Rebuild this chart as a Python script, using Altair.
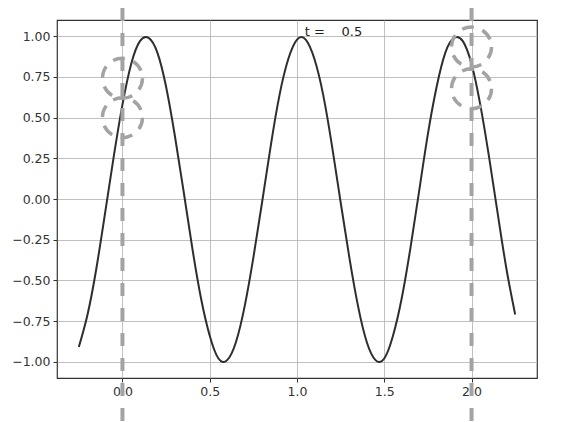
import altair as alt
import pandas as pd

# curve samples
xs = [-0.25, -0.20, -0.15, -0.10, -0.05, 0.00, 0.05, 0.10, 0.15, 0.20, 0.25,
      0.30, 0.35, 0.40, 0.45, 0.50, 0.55, 0.60, 0.65, 0.70, 0.75, 0.80,
      0.85, 0.90, 0.95, 1.00, 1.05, 1.10, 1.15, 1.20, 1.25, 1.30, 1.35,
      1.40, 1.45, 1.50, 1.55, 1.60, 1.65, 1.70, 1.75, 1.80, 1.85, 1.90,
      1.95, 2.00, 2.05, 2.10, 2.15, 2.20, 2.25]
ys = [-0.91, -0.71, -0.43, -0.09, 0.26, 0.58, 0.83, 0.97, 0.99, 0.90, 0.69,
      0.39, 0.05, -0.30, -0.61, -0.84, -0.98, -0.99, -0.88, -0.66, -0.36, -0.02,
      0.33, 0.64, 0.86, 0.98, 0.98, 0.86, 0.64, 0.33, -0.02, -0.36, -0.66,
      -0.88, -0.99, -0.98, -0.84, -0.61, -0.30, 0.05, 0.40, 0.69, 0.90, 0.99,
      0.97, 0.83, 0.58, 0.26, -0.09, -0.43, -0.71]

# vertical dashed markers
rule_x = [0.0, 2.0]

# dashed circles
circle_x = [0.0, 0.0, 2.0, 2.0]
circle_y = [0.742, 0.50, 0.934, 0.678]

label_x = [1.045]
label_y = [1.0]
label_text = ["t =\u00a0\u00a0\u00a0\u00a00.5"]

W, H = 480, 358
PAD = {"left": 49, "top": 12, "right": 18, "bottom": 44}

curve_df = pd.DataFrame({"x": xs, "y": ys})
rule_df = pd.DataFrame({"x": rule_x})
circ_df = pd.DataFrame({"x": circle_x, "y": circle_y})
txt_df = pd.DataFrame({"x": label_x, "y": label_y, "t": label_text})

xscale = alt.Scale(domain=[-0.375, 2.375], nice=False, zero=False)
yscale = alt.Scale(domain=[-1.1, 1.1], nice=False, zero=False)

xaxis = alt.Axis(values=[0, 0.5, 1.0, 1.5, 2.0], format=".1f", title=None)
yaxis = alt.Axis(values=[-1, -0.75, -0.5, -0.25, 0, 0.25, 0.5, 0.75, 1.0],
                 format=".2f", title=None)

curve = alt.Chart(curve_df).mark_line(
    color="#2e2e2e", strokeWidth=2, interpolate="natural"
).encode(
    x=alt.X("x:Q", scale=xscale, axis=xaxis),
    y=alt.Y("y:Q", scale=yscale, axis=yaxis),
)

rules = alt.Chart(rule_df).mark_rule(
    color="#a3a3a3", strokeWidth=4, strokeDash=[13, 12]
).encode(
    x=alt.X("x:Q", scale=xscale),
    y=alt.value(-PAD["top"]),
    y2=alt.value(H + PAD["bottom"]),
)

circles = alt.Chart(circ_df).mark_point(
    shape="circle", filled=False, size=1600, color="#a3a3a3",
    strokeWidth=3.5, strokeDash=[12, 9], opacity=1
).encode(
    x=alt.X("x:Q", scale=xscale),
    y=alt.Y("y:Q", scale=yscale),
)

text = alt.Chart(txt_df).mark_text(
    align="left", baseline="alphabetic", fontSize=13,
    font="DejaVu Sans", color="#222222"
).encode(
    x=alt.X("x:Q", scale=xscale),
    y=alt.Y("y:Q", scale=yscale),
    text="t:N",
)

chart = alt.layer(curve, rules, circles, text).properties(
    width=W, height=H,
    autosize=alt.AutoSizeParams(type="none"),
    padding=PAD,
).configure_view(
    stroke="#333333", strokeWidth=1.2
).configure_axis(
    domain=False,
    grid=True, gridColor="#b0b0b0", gridWidth=0.8,
    tickColor="#333333", tickSize=4, tickWidth=1,
    labelFont="DejaVu Sans", labelFontSize=12.5, labelColor="#333333",
    labelPadding=3,
)

chart.save("out.html", embed_options={"renderer": "svg", "actions": False})
